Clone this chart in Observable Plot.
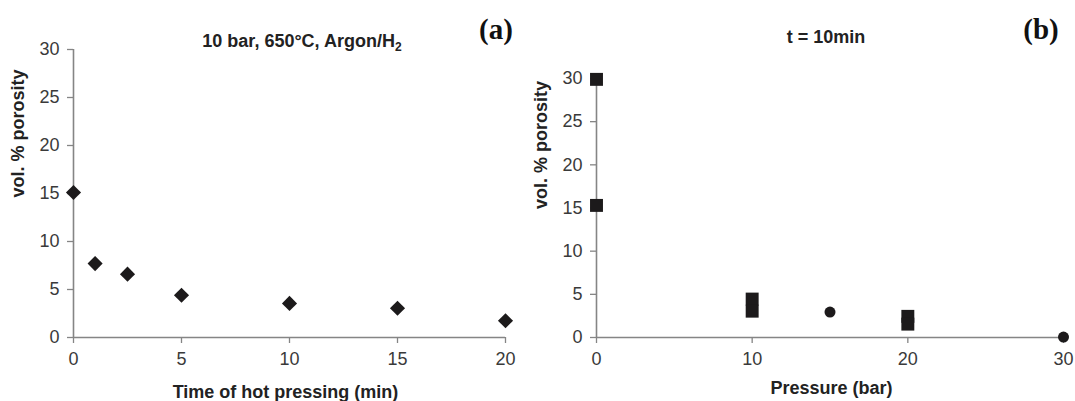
<!DOCTYPE html>
<html><head><meta charset="utf-8">
<script src="https://cdn.jsdelivr.net/npm/d3@7"></script>
<script src="https://cdn.jsdelivr.net/npm/@observablehq/plot@0.6"></script>
<style>
html,body{margin:0;padding:0;background:#fff;}
#wrap{position:relative;width:1075px;height:401px;overflow:hidden;font-family:"Liberation Sans",Arial,sans-serif;}
.panel{position:absolute;top:0;}
.title{position:absolute;width:400px;text-align:center;font-weight:bold;font-size:18px;line-height:18px;color:#222;white-space:nowrap;}
.title sub{font-size:12px;line-height:0;vertical-align:-4px;}
.tag{position:absolute;width:80px;text-align:center;font-family:"Liberation Serif","Times New Roman",serif;font-weight:bold;font-size:29px;line-height:29px;color:#111;}
</style></head><body>
<div id="wrap">
  <div id="panelA" class="panel" style="left:0px"></div>
  <div id="panelB" class="panel" style="left:540px"></div>
  <div class="title" style="left:102px;top:32px">10 bar, 650°C, Argon/H<sub>2</sub></div>
  <div class="title" style="left:626px;top:28px">t = 10min</div>
  <div class="tag" style="left:456px;top:15px">(a)</div>
  <div class="tag" style="left:1001px;top:15px">(b)</div>
</div>
<script>
// ---- data ----
const timeA = [0, 1, 2.5, 5, 10, 15, 20];
const porosityA = [15.1, 7.7, 6.6, 4.4, 3.55, 3.05, 1.75];

const pressureSq = [0, 0, 10, 10, 20, 20];
const porositySq = [29.9, 15.3, 4.45, 3.05, 2.45, 1.55];
const pressureCirc = [15, 30];
const porosityCirc = [2.95, 0.05];

const yTicks = [0, 5, 10, 15, 20, 25, 30];
const xTicksA = [0, 5, 10, 15, 20];
const xTicksB = [0, 10, 20, 30];

const yTitle = "vol. % porosity";
const xTitleA = "Time of hot pressing (min)";
const xTitleB = "Pressure (bar)";

// ---- styles ----
const axisGray = "#858585";
const tickText = "#3a3a3a";
const titleColor = "#222";
const markerColor = "#1c1a1b";
const font = "'Liberation Sans', Arial, sans-serif";

const dataA = timeA.map((t, i) => ({t, p: porosityA[i]}));
const dataSq = pressureSq.map((x, i) => ({x, p: porositySq[i]}));
const dataCirc = pressureCirc.map((x, i) => ({x, p: porosityCirc[i]}));

function axes(xTicks) {
  return [
    Plot.axisY({ticks: yTicks, tickSize: 6, tickPadding: 8, stroke: axisGray, strokeWidth: 1.3, fill: tickText, label: null, fontSize: 18}),
    Plot.axisX({ticks: xTicks, tickSize: 6, tickPadding: 9, stroke: axisGray, strokeWidth: 1.3, fill: tickText, label: null, fontSize: 18}),
    Plot.ruleX([0], {stroke: axisGray, strokeWidth: 1.6}),
    Plot.ruleY([0], {stroke: axisGray, strokeWidth: 1.6})
  ];
}

const chartA = Plot.plot({
  width: 540, height: 401,
  marginLeft: 73, marginRight: 35, marginTop: 49, marginBottom: 64,
  x: {domain: [0, 20], label: null},
  y: {domain: [0, 30], label: null},
  style: {fontFamily: font, fontSize: "18px", background: "transparent", overflow: "visible"},
  marks: [
    ...axes(xTicksA),
    Plot.dot(dataA, {x: "t", y: "p", symbol: "diamond2", r: 6.8, fill: markerColor, stroke: "none"}),
    Plot.text([yTitle], {text: d => d, frameAnchor: "left", rotate: -90, dx: -55, dy: 4, fontWeight: "bold", fontSize: 18, fill: titleColor}),
    Plot.text([xTitleA], {text: d => d, frameAnchor: "bottom", dx: -4, dy: 60, fontWeight: "bold", fontSize: 18, fill: titleColor})
  ]
});

const chartB = Plot.plot({
  width: 535, height: 401,
  marginLeft: 56, marginRight: 12, marginTop: 78, marginBottom: 64,
  x: {domain: [0, 30], label: null},
  y: {domain: [0, 30], label: null},
  style: {fontFamily: font, fontSize: "18px", background: "transparent", overflow: "visible"},
  marks: [
    ...axes(xTicksB),
    Plot.dot(dataSq, {x: "x", y: "p", symbol: "square", r: 7.3, fill: markerColor, stroke: "none"}),
    Plot.dot(dataCirc, {x: "x", y: "p", symbol: "circle", r: 5.5, fill: markerColor, stroke: "none"}),
    Plot.text([yTitle], {text: d => d, frameAnchor: "left", rotate: -90, dx: -55, dy: 1, fontWeight: "bold", fontSize: 18, fill: titleColor}),
    Plot.text([xTitleB], {text: d => d, frameAnchor: "bottom", dx: 1.5, dy: 56, fontWeight: "bold", fontSize: 18, fill: titleColor})
  ]
});

document.getElementById("panelA").appendChild(chartA);
document.getElementById("panelB").appendChild(chartB);
</script>
</body></html>
